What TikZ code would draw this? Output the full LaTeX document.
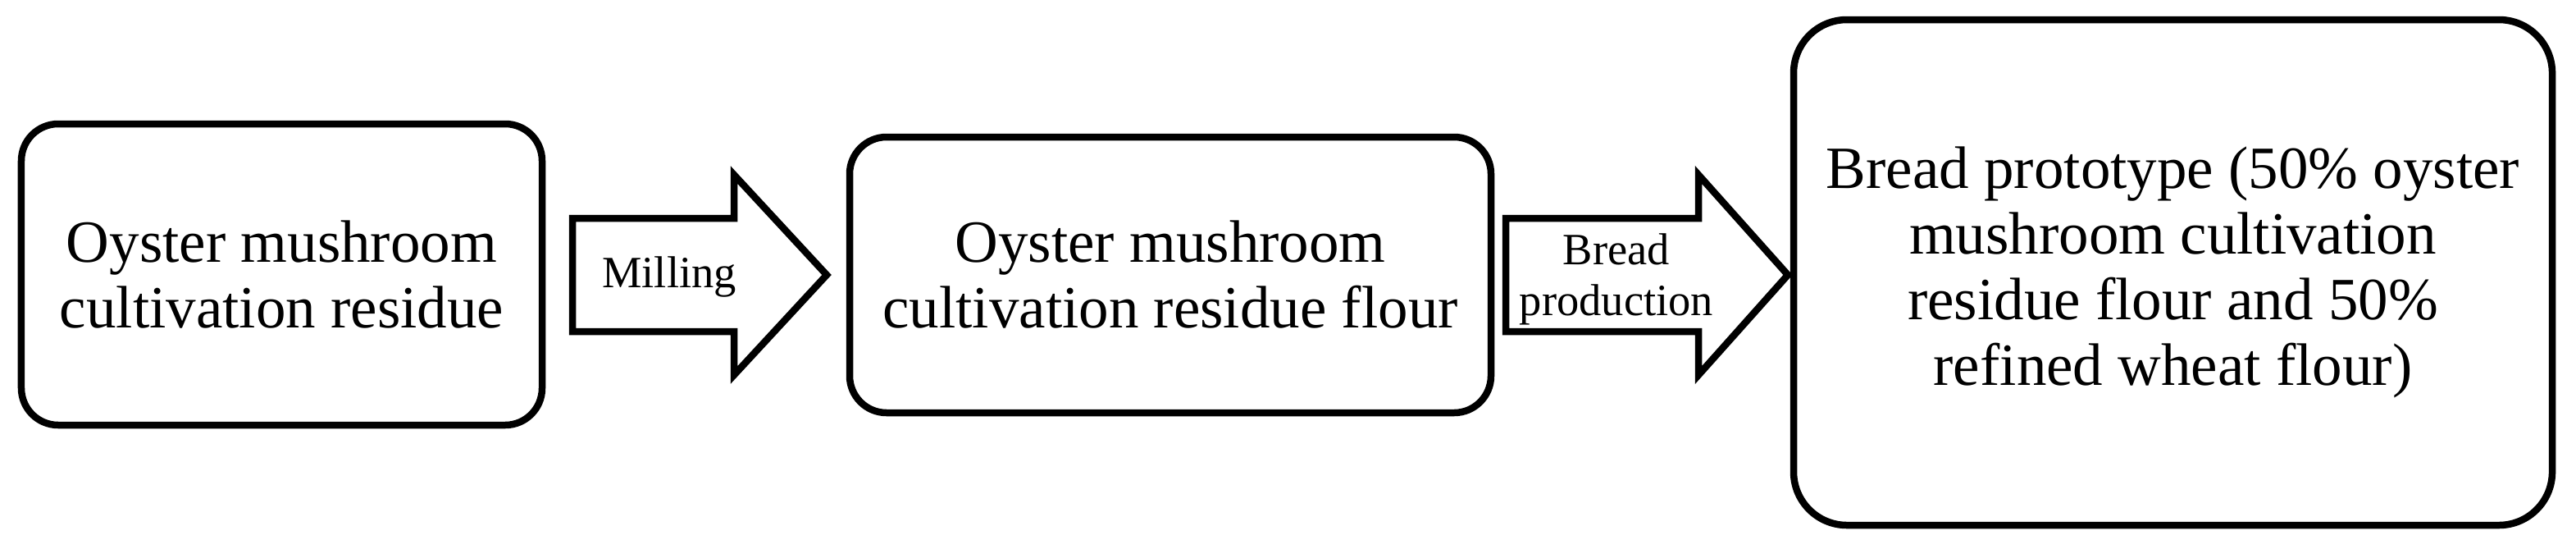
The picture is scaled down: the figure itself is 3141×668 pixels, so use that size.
\documentclass[tikz,border=0pt]{standalone}
\usepackage{fontspec}
\setmainfont{Liberation Serif}
\begin{document}
\begin{tikzpicture}[x=0.2pt,y=-0.2pt,
  box/.style={draw=black, line width=1.7pt, rounded corners=9pt, fill=white,
    align=center, inner sep=0pt, font=\fontsize{14.6}{16}\selectfont},
  blockarrow/.style={draw=black, line width=1.7pt, miter limit=10, line join=miter, fill=white},
  lbl/.style={align=center, inner sep=0pt, font=\fontsize{10.9}{12.4}\selectfont}]
\useasboundingbox (0,0) rectangle (3141,668);
\node[box, minimum width=127pt, minimum height=73.4pt] (b1) at (343.5,334.5)
  {Oyster mushroom\\cultivation residue};
\node[box, minimum width=156.4pt, minimum height=67.2pt] (b2) at (1427,335)
  {Oyster mushroom\\cultivation residue flour};
\node[box, rounded corners=13pt, minimum width=185pt, minimum height=123.2pt] (b3) at (2649.5,332)
  {Bread prototype (50\% oyster\\mushroom cultivation\\residue flour and 50\%\\refined wheat flour)};
% block arrow 1
\draw[blockarrow] (698,266) -- (895,266) -- (895,213) -- (1008,335) -- (895,457) -- (895,404) -- (698,404) -- cycle;
\node[lbl] (l1) at (816,337) {Milling};
% block arrow 2
\draw[blockarrow] (1836,266) -- (2071,266) -- (2071,213) -- (2180,335) -- (2071,457) -- (2071,404) -- (1836,404) -- cycle;
\node[lbl] (l2) at (1971,340) {Bread\\production};
\end{tikzpicture}
\end{document}
